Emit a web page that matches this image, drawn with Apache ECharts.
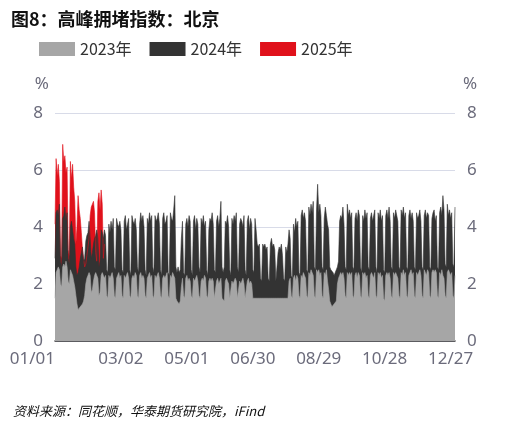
<!DOCTYPE html><html><head><meta charset="utf-8"><script src="https://cdn.jsdelivr.net/npm/echarts@6/dist/echarts.min.js"></script>
<style>body{margin:0}#c{width:519px;height:426px}</style></head><body><div id="c"></div><script>
const yTicks=[0,2,4,6,8];
const y2025=[4.1,6.4,5.8,6.2,5.6,3.0,2.9,6.9,6.3,6.5,5.9,6.1,3.2,3.0,6.3,5.7,6.2,5.4,4.9,3.4,4.0,5.1,4.6,4.3,3.8,3.2,2.9,2.6,2.7,3.0,3.3,3.6,4.4,4.7,4.8,4.9,4.5,3.1,2.8,4.9,5.2,4.6,5.3,4.8,2.9,3.4];
const y2024=[
2.9,4.5,4.6,4.4,4.8,2.8,2.6, 4.3,4.4,4.7,4.2,4.5,2.9,2.7, 4.0,4.2,3.9,3.6,3.4,2.6,2.3, 2.4,2.6,2.9,3.1,3.3,2.8,2.9,
3.5,3.7,3.8,4.2,3.6,2.9,3.1, 3.4,3.6,3.7,3.9,3.6,2.6,2.8, 3.9,3.8,3.6,3.9,3.7,2.5,2.4, 4.1,3.8,4.2,3.9,4.3,2.6,2.5,
4.3,4.1,4.0,4.2,3.9,2.5,2.4, 4.2,4.4,3.9,4.1,4.3,2.5,2.3, 4.4,4.2,4.1,4.3,3.9,2.6,2.4, 4.1,4.5,4.2,4.4,4.0,2.5,2.3,
4.3,4.1,4.5,4.2,4.4,2.6,2.4, 4.4,4.2,4.3,4.5,4.1,2.5,2.3, 4.3,4.5,4.1,4.2,4.4,2.4,2.3, 4.5,4.3,4.2,4.6,5.1,2.6,2.4,
2.6,2.4,2.5,3.6,4.2,2.4,2.3, 4.1,4.3,4.0,4.4,4.2,2.5,2.3, 4.2,4.4,3.9,4.3,4.1,2.6,2.4, 4.3,4.1,4.4,4.0,4.2,2.5,2.3,
3.9,4.3,4.2,4.5,4.1,2.5,2.4, 4.2,4.4,4.0,4.3,4.9,2.6,2.4, 2.6,4.2,4.1,4.4,4.0,2.5,2.3, 4.3,4.1,4.4,4.2,4.5,2.6,2.4,
4.1,4.3,4.2,4.0,4.4,2.5,2.3, 4.2,4.4,3.9,4.3,4.1,2.5,2.4, 4.3,3.9,3.4,3.3,3.4,2.2,2.1, 3.4,3.3,3.4,3.2,3.3,2.2,2.1,
3.4,3.6,3.3,3.4,3.2,2.1,2.1, 3.1,3.3,3.2,3.4,3.0,2.2,2.1, 3.3,3.1,3.4,3.9,3.6,2.3,2.2, 4.1,3.8,4.3,4.0,4.2,2.4,2.3,
4.4,4.6,4.3,4.5,4.2,2.5,2.4, 4.7,4.4,4.8,4.5,4.9,2.6,2.5, 4.6,5.5,4.5,4.8,4.4,2.6,2.5, 4.3,4.7,4.4,4.1,3.9,2.6,2.5,
2.5,2.4,2.3,2.4,2.5,2.6,2.8, 4.2,4.4,4.3,4.7,4.1,2.6,2.5, 4.8,4.4,4.6,4.3,4.5,2.6,2.5, 4.3,4.5,4.2,4.6,4.4,2.6,2.4,
4.4,4.2,4.6,4.3,4.5,2.6,2.5, 4.3,4.5,4.2,4.4,4.6,2.6,2.4, 4.5,4.3,4.6,4.2,4.4,2.5,2.4, 4.4,4.6,4.3,4.7,4.2,2.6,2.5,
4.5,4.3,4.6,4.4,4.2,2.6,2.5, 4.6,4.4,4.7,4.3,4.5,2.6,2.5, 4.4,4.6,4.3,4.5,4.2,2.6,2.5, 4.5,4.3,4.4,4.6,4.2,2.6,2.5,
4.4,4.6,4.3,4.5,4.4,2.6,2.5, 4.3,4.5,4.6,4.2,4.4,2.6,2.5, 4.5,4.7,4.4,5.1,4.6,2.7,2.6, 4.8,4.4,4.6,4.3,4.5,2.7,2.6,
4.7,4.4,4.2,4.5,4.3,2.6,2.5, 3.7,3.6,3.6,3.7,3.6,3.7,3.6];
const y2023=[
1.5,2.4,2.5,2.6,2.5,2.0,1.9, 2.6,2.7,2.6,2.8,2.6,2.1,2.0, 2.5,2.4,2.3,2.1,1.9,1.6, 1.3,1.1,1.1,1.2,1.2,1.3,1.4,1.6,
2.0,2.2,2.3,2.4,2.3,1.7,1.8, 2.1,2.3,2.4,2.3,2.2,1.6,1.7, 2.3,2.4,2.3,2.2,2.3,1.6,1.5, 2.3,2.2,2.3,2.4,2.2,1.6,1.5,
2.2,2.3,2.4,2.2,2.3,1.6,1.5, 2.3,2.2,2.3,2.4,2.2,1.6,1.5, 2.2,2.3,2.2,2.4,2.3,1.6,1.5, 2.3,2.4,2.2,2.3,2.2,1.6,1.5,
2.2,2.3,2.4,2.2,2.3,1.6,1.5, 2.3,2.2,2.3,2.4,2.2,1.6,1.5, 2.2,2.3,2.2,2.3,2.4,1.6,1.5, 2.3,2.2,2.4,2.3,2.2,1.5,1.4,
1.4,1.3,1.4,1.9,2.2,1.6,1.5, 2.2,2.3,2.1,2.2,2.1,1.6,1.5, 2.2,2.1,2.2,2.3,2.1,1.6,1.5, 2.1,2.2,2.1,2.3,2.2,1.6,1.5,
2.1,2.2,2.1,2.2,2.1,1.5,1.5, 2.1,2.2,2.0,2.1,2.2,1.5,1.5, 1.4,2.1,2.2,2.1,2.0,1.5,1.5, 2.1,2.0,2.1,2.2,2.1,1.5,1.5,
2.1,2.0,2.1,2.2,2.0,1.5,1.5, 2.1,2.2,2.0,2.1,2.0,1.5,1.5, 1.5,1.5,1.5,1.5,1.5,1.5,1.5, 1.5,1.5,1.5,1.5,1.5,1.5,1.5,
1.5,1.5,1.5,1.5,1.5,1.5,1.5, 1.5,1.5,1.5,1.5,1.5,1.5,1.5, 1.5,1.5,1.5,2.1,2.2,1.6,1.5, 2.2,2.3,2.1,2.3,2.2,1.6,1.5,
2.3,2.2,2.4,2.3,2.2,1.6,1.5, 2.4,2.3,2.5,2.4,2.3,1.6,1.5, 2.5,2.4,2.5,2.3,2.4,1.6,1.5, 2.4,2.3,2.5,2.1,1.8,1.4,1.3,
1.2,1.2,1.3,1.3,1.4,2.0,2.2, 2.3,2.4,2.3,2.4,2.2,1.6,1.5, 2.4,2.3,2.4,2.3,2.4,1.6,1.5, 2.3,2.4,2.2,2.4,2.3,1.6,1.5,
2.4,2.3,2.4,2.2,2.3,1.6,1.5, 2.3,2.4,2.3,2.2,2.4,1.6,1.5, 2.4,2.3,2.4,2.2,2.3,1.5,1.4, 2.3,2.4,2.3,2.4,2.2,1.6,1.5,
2.4,2.3,2.4,2.3,2.2,1.6,1.5, 2.4,2.3,2.5,2.3,2.4,1.6,1.5, 2.3,2.4,2.5,2.3,2.4,1.6,1.5, 2.4,2.3,2.4,2.5,2.3,1.6,1.5,
2.5,2.4,2.3,2.5,2.4,1.6,1.5, 2.4,2.5,2.4,2.5,2.4,1.6,1.5, 2.4,2.3,2.5,2.3,2.2,1.6,1.5, 2.4,2.5,2.4,2.3,2.4,1.6,1.5,
2.3,2.4,2.2,2.3,2.4,1.6,1.5, 2.3,2.2,2.3,2.2,2.3,2.2,2.3];
const days=[];const mlen=[31,28,31,30,31,30,31,31,30,31,30,31];
mlen.forEach((n,m)=>{for(let d=1;d<=n;d++)days.push(String(m+1).padStart(2,'0')+'/'+String(d).padStart(2,'0'));});
const c=echarts.init(document.getElementById('c'));
const tx={color:'#6b6b7b',fontSize:17,fontFamily:'Noto Sans'};
const mk=(n,d,col)=>({name:n,type:'line',data:d.slice(0,365),symbol:'none',lineStyle:{width:0.6,color:col},areaStyle:{color:col,opacity:1},itemStyle:{color:col},animation:false});
c.setOption({
animation:false,
title:[{text:'图8：高峰拥堵指数：北京',left:6,top:5,textStyle:{fontSize:18,fontWeight:'bold',color:'#111',fontFamily:'Noto Sans CJK SC'}},
{text:'资料来源：同花顺，华泰期货研究院，iFind',left:8,top:400,textStyle:{fontSize:13,fontStyle:'italic',fontWeight:'normal',color:'#111',fontFamily:'Noto Sans CJK SC'}}],
legend:{left:34,top:36,itemWidth:36,itemGap:18,itemHeight:14,icon:'rect',textStyle:{fontSize:16,color:'#333',fontFamily:'Noto Sans CJK SC'},data:['2023年','2024年','2025年']},
grid:{left:55,right:64,top:113,bottom:85},
xAxis:{type:'category',data:days,boundaryGap:false,axisTick:{show:false},axisLine:{lineStyle:{color:'#333',width:1.5}},axisLabel:Object.assign({interval:59,margin:10,alignMinLabel:'right'},tx)},
yAxis:[{type:'value',min:0,max:8,interval:2,name:'%',nameGap:20,nameTextStyle:Object.assign({align:'right',padding:[0,6,0,0]},tx),axisLabel:Object.assign({margin:12},tx),splitLine:{lineStyle:{color:'#d8dbe8'}},axisLine:{show:false}},
{type:'value',min:0,max:8,interval:2,name:'%',nameGap:20,nameTextStyle:Object.assign({align:'left',padding:[0,0,0,8]},tx),axisLabel:Object.assign({margin:12},tx),splitLine:{show:false},axisLine:{show:false}}],
series:[mk('2025年',y2025,'#e0111b'),mk('2024年',y2024,'#333333'),mk('2023年',y2023,'#a6a6a6')]
});
</script></body></html>
